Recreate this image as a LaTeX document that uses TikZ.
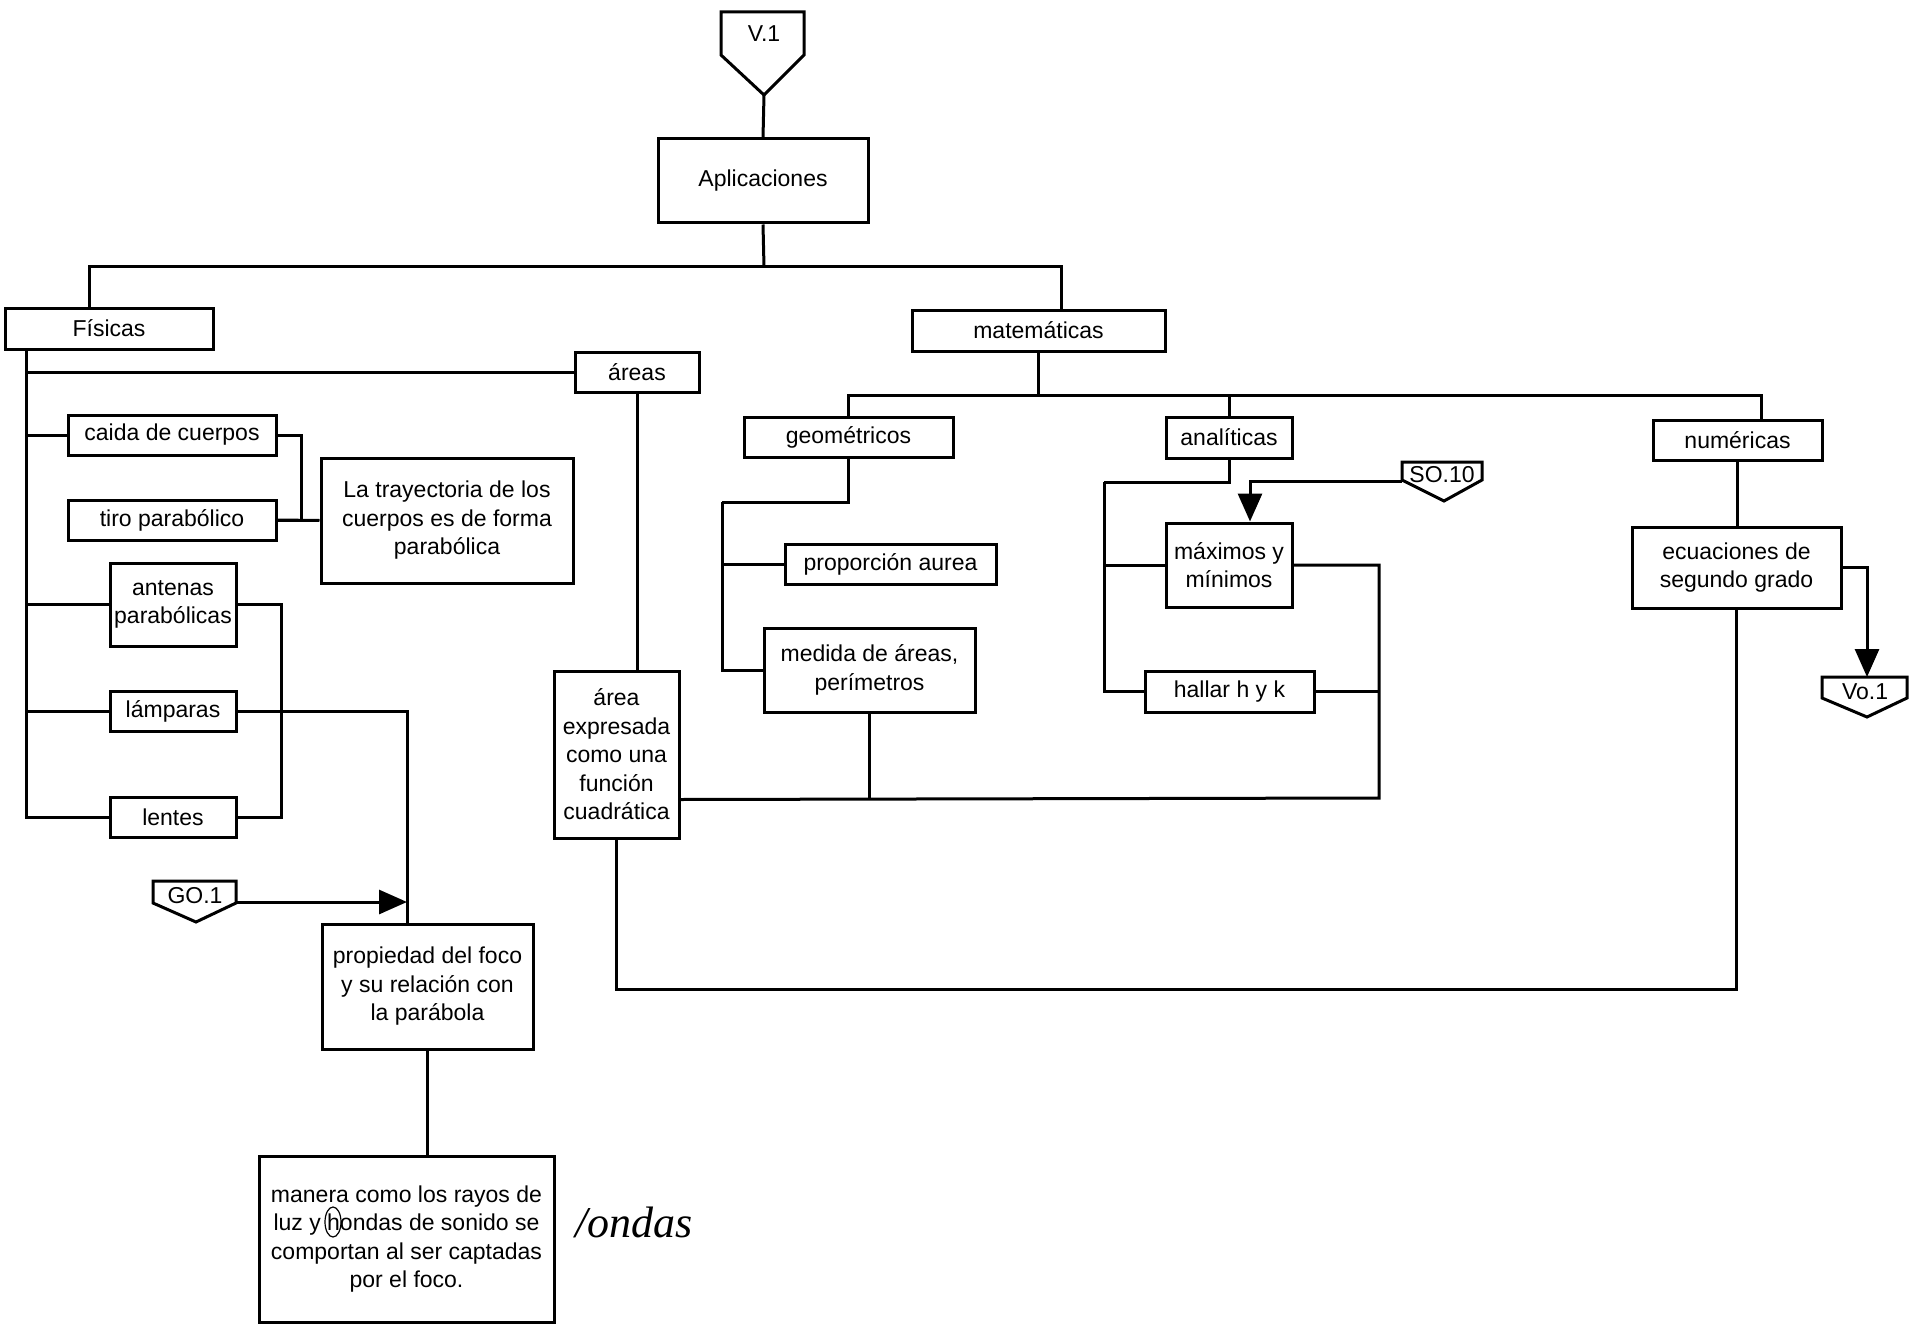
\documentclass[tikz,border=0pt]{standalone}
\usepackage{fontspec}
\setmainfont{Liberation Sans}
\newfontfamily\handfont{Liberation Serif}
\usetikzlibrary{arrows.meta}
\begin{document}
\begin{tikzpicture}[x=1pt,y=-1pt,
  every node/.style={font=\fontsize{23}{28.5}\selectfont, text=black},
  box/.style={draw,line width=3pt,inner sep=0pt,align=center},
  conn/.style={line width=3pt},
  arr/.style={line width=3pt,-{Triangle[length=28pt,width=24pt]}},
  offpg/.style={line width=3pt, line join=miter},
]
\path[use as bounding box, fill=white] (0,0) rectangle (1927,1324);

% boxes
\node[box,minimum width=210pt,minimum height=84pt] (apl) at (763,181) {Aplicaciones};
\node[box,minimum width=208pt,minimum height=41pt] (fis) at (109,328.5) {Físicas};
\node[box,minimum width=253pt,minimum height=41pt] (mat) at (1038.5,330.5) {matemáticas};
\node[box,minimum width=124pt,minimum height=40pt] (areas) at (637,372) {áreas};
\node[box,minimum width=208pt,minimum height=40pt] (caida) at (172,435) {caida de cuerpos};
\node[box,minimum width=208pt,minimum height=40pt] (tiro) at (172,520) {tiro parabólico};
\node[box,minimum width=252pt,minimum height=125pt] (tray) at (447,520.5) {La trayectoria de los\\cuerpos es de forma\\parabólica};
\node[box,minimum width=126pt,minimum height=83pt] (ant) at (173,604.5) {antenas\\parabólicas};
\node[box,minimum width=126pt,minimum height=40pt] (lamp) at (173,711) {lámparas};
\node[box,minimum width=126pt,minimum height=40pt] (lent) at (173,817) {lentes};
\node[box,minimum width=125pt,minimum height=167pt] (aexp) at (616.5,754.5) {área\\expresada\\como una\\función\\cuadrática};
\node[box,minimum width=209pt,minimum height=40pt] (geo) at (848.5,437) {geométricos};
\node[box,minimum width=211pt,minimum height=40pt] (prop) at (890.5,564) {proporción aurea};
\node[box,minimum width=211pt,minimum height=84pt] (med) at (869.5,670) {medida de áreas,\\perímetros};
\node[box,minimum width=126pt,minimum height=41pt] (anal) at (1229,437.5) {analíticas};
\node[box,minimum width=126pt,minimum height=84pt] (max) at (1229,565) {máximos y\\mínimos};
\node[box,minimum width=169pt,minimum height=41pt] (hal) at (1229.5,691.5) {hallar h y k};
\node[box,minimum width=169pt,minimum height=40pt] (num) at (1737.5,440) {numéricas};
\node[box,minimum width=209pt,minimum height=81pt] (ecu) at (1736.5,567.5) {ecuaciones de\\segundo grado};
\node[box,minimum width=211pt,minimum height=125pt] (foco) at (427.5,986.5) {propiedad del foco\\y su relación con\\la parábola};
\node[box,minimum width=295pt,minimum height=166pt] (man) at (406.5,1239) {manera como los rayos de\\luz y hondas de sonido se\\comportan al ser captadas\\por el foco.};

% off-page connectors
\draw[offpg] (721,12) -- (804,12) -- (804,55) -- (764,95) -- (721,55) -- cycle;
\node (v1) at (764,34) {V.1};
\coordinate (v1tip) at (764,95);
\draw[offpg] (153,881) -- (236,881) -- (236,903) -- (196,922) -- (153,903) -- cycle;
\node (go1) at (195,896) {GO.1};
\coordinate (go1out) at (236,902);
\draw[offpg] (1402,462) -- (1482,462) -- (1482,480) -- (1444,501) -- (1402,480) -- cycle;
\node (so10) at (1442,475) {SO.10};
\coordinate (so10in) at (1402,481);
\draw[offpg] (1822,677) -- (1907,677) -- (1907,698) -- (1867,717) -- (1822,698) -- cycle;
\node (vo1) at (1865,692) {Vo.1};
\coordinate (vo1top) at (1867,677);

% connectors
\draw[conn] (v1tip) -- (apl.north);
\coordinate (j1) at (764,267);
\draw[conn] (apl.south) -- (j1);
\draw[conn] ([xshift=-20pt]fis.north) |- (j1) -| ([xshift=23pt]mat.north);

\coordinate (tr) at ([xshift=22.5pt]fis.south west);
\draw[conn] (tr) |- (lent.west);
\draw[conn] (tr) |- (areas.west);
\draw[conn] (tr) |- (caida.west);
\draw[conn] (tr) |- (ant.west);
\draw[conn] (tr) |- (lamp.west);

\draw[conn] (caida.east) -- ++(24,0) |- (tiro.east);
\draw[conn] (tiro.east) -- (tray.west);
\draw[conn] (ant.east) -- ++(44,0) |- (lent.east);
\coordinate (pin) at ([xshift=-20.5pt]foco.north);
\draw[conn] (lamp.east) -| (pin);
\draw[arr] (go1out) -- (go1out -| pin);
\draw[conn] (foco.south) -- (foco.south |- man.north);

\draw[conn] (areas.south) -- (areas.south |- aexp.north);

\coordinate (j2) at (1040,395);
\draw[conn] (mat.south) -- (mat.south |- j2);
\draw[conn] (geo.north) |- (j2);
\draw[conn] ([xshift=24pt]num.north) |- (j2);
\draw[conn] (anal.north) -- (anal.north |- j2);

\coordinate (g1) at (722,502);
\draw[conn] (geo.south) |- (g1);
\draw[conn] (g1) |- (prop.west);
\draw[conn] (g1) |- (med.west);

\coordinate (j3) at (1379,798);
\draw[conn] ([yshift=40pt]aexp.south east) -- (j3) |- (max.east);
\draw[conn] (hal.east) -- (hal.east -| j3);
\draw[conn] (med.south) -- (med.south |- j3);

\coordinate (a1) at (1104,482);
\draw[conn] (anal.south) |- (a1);
\draw[conn] (a1) |- (max.west);
\draw[conn] (a1) |- (hal.west);
\draw[arr] (so10in) -| ([xshift=21pt]max.north);

\draw[conn] (num.south) -- (num.south |- ecu.north);
\draw[arr] (ecu.east) -| (vo1top);
\draw[conn] (ecu.south) -- ++(0,380) -| (aexp.south);

% handwritten correction
\node[font=\fontsize{44}{44}\selectfont\handfont\itshape] (hw) at (634,1222) {/ondas};
\draw[line width=1.2pt] (333,1222) ellipse [x radius=8, y radius=15];
\end{tikzpicture}
\end{document}
